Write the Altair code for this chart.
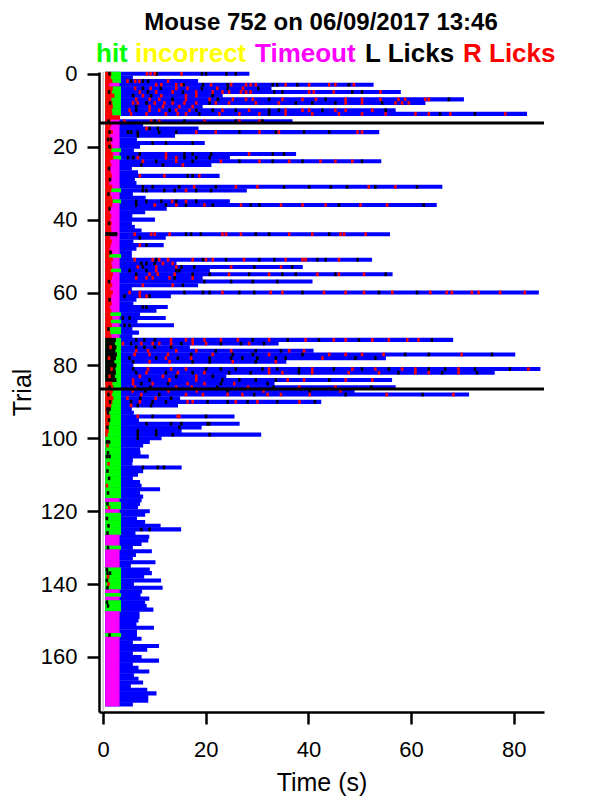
import altair as alt
import pandas as pd

# trial end times (s), one per trial
TRIAL_END = [
    28.5, 5.8, 18.5, 52.7, 32.8, 58.0, 23.3, 70.3, 62.8, 19.4,
    57.0, 82.6, 3.3, 36.9, 7.8, 18.6, 53.8, 14.0, 6.6, 19.8,
    7.2, 6.0, 37.6, 24.7, 54.2, 21.1, 5.6, 6.8, 22.7, 6.2,
    6.5, 66.1, 28.0, 5.8, 8.3, 24.7, 65.0, 12.4, 8.2, 5.7,
    10.1, 5.6, 6.2, 7.5, 55.9, 12.2, 5.9, 11.8, 6.5, 5.6,
    5.6, 52.4, 14.3, 38.9, 20.8, 56.4, 19.4, 40.8, 18.5, 5.6,
    84.9, 13.2, 6.5, 5.9, 12.6, 10.4, 7.2, 12.2, 6.7, 13.8,
    5.7, 7.0, 5.7, 68.2, 34.2, 16.9, 41.0, 80.3, 55.1, 35.7,
    5.9, 85.2, 76.3, 24.0, 56.3, 33.4, 57.0, 49.0, 71.3, 15.0,
    42.5, 14.6, 5.6, 6.0, 25.6, 7.0, 26.6, 19.2, 15.3, 30.8,
    11.4, 9.1, 7.8, 7.2, 7.3, 8.9, 5.8, 5.7, 15.3, 7.8,
    6.8, 5.8, 7.2, 7.5, 11.1, 7.2, 7.8, 7.5, 7.2, 6.8,
    9.1, 8.2, 6.6, 8.2, 11.2, 15.2, 6.3, 9.0, 8.8, 7.5,
    5.8, 9.5, 6.4, 5.8, 10.2, 5.4, 9.1, 9.5, 8.0, 11.3,
    6.0, 11.6, 7.6, 7.3, 9.0, 8.2, 8.5, 9.8, 7.1, 7.1,
    6.9, 6.5, 9.9, 6.6, 6.6, 7.5, 5.8, 10.9, 8.6, 5.8,
    7.5, 10.9, 5.8, 6.9, 9.0, 6.0, 6.9, 7.8, 5.4, 8.6,
    10.4, 8.8, 8.8, 5.8,
]

# H = hit, I = incorrect, T = timeout
OUTCOME = list(
    "HHHTHHHHHH" "HHTTTTTTTT" "THTHTTTTTT" "TTHTTHTTTT" "TTTTTTTTTT"
    "HTTTHTTTTT" "TTTTTTHTHT" "HHTHHHHHHH" "HHHHHHHHHH" "HHHHHHHHHH"
    "HHHHHHHHHH" "HHHHHHHTHH" "THHHHHHTTT" "HTTTTTHHHH" "HHTHTHHHTT"
    "TTTTHTTTTT" "TTTTTTTTTT" "TTTT"
)
OUTCOME_ON = 0.4
OUTCOME_OFF = {"H": 3.5, "I": 3.5, "T": 3.2}

# dense licking right after the cue (trials 0-99): end time and side
EARLY_END = [
    1.6, 1.5, 1.8, 1.2, 1.9, 1.7, 2.2, 1.6, 1.8, 1.9, 1.7, 1.8, 3.3, 1.5,
    1.6, 1.4, 1.9, 1.3, 1.7, 1.5, 1.8, 1.6, 1.9, 2.0, 1.4, 1.6, 1.3, 1.5,
    1.7, 1.5, 1.2, 1.8, 1.6, 1.4, 1.7, 1.9, 1.8, 1.5, 1.3, 1.6, 1.4, 1.7,
    1.5, 1.6, 2.8, 1.4, 1.7, 1.5, 1.3, 1.8, 1.2, 1.9, 1.6, 1.8, 1.5, 1.9,
    1.7, 1.5, 1.8, 1.4, 1.9, 1.6, 1.5, 1.7, 1.3, 1.6, 1.4, 1.8, 1.5, 1.7,
    1.2, 1.4, 1.6, 2.5, 2.3, 2.6, 2.4, 2.7, 2.5, 2.2, 2.6, 2.4, 2.5, 2.3, 2.6,
    1.8, 2.0, 1.9, 1.7, 2.0, 1.8, 1.6, 1.2, 1.0, 1.4, 0.9, 1.2, 0.8, 1.1, 0.9,
]
EARLY_SIDE = list(
    "RRRRRRRRRR" "RRRRRRRRRR" "RRRRRRRRRR" "RRRRRRRRRR" "RRRRLRRRRR"
    "RRRRRRRRRR" "RRRRRRRRRR" "RRRLLLLLLL" "LLLLLRRRRR" "RRRRRRRRRR"
)

L_LICKS = {
    0: [1.0, 10.2, 19.0, 19.8, 23.8, 25.6],
    2: [5.2, 7.5, 8.5],
    3: [15.4, 19.2, 24.0, 32.8, 33.7, 37.6, 47.6],
    4: [7.5, 11.0, 19.0, 24.0, 30.0],
    5: [0.9, 8.5, 15.3, 33.1, 34.7, 48.3, 50.2],
    6: [5.6, 9.1, 21.1],
    7: [13.3, 22.1, 32.1, 43.1, 67.1],
    8: [1.1, 8.2, 20.5, 37.3, 40.5, 45.0, 54.1],
    9: [6.2],
    10: [6.2, 12.7, 17.9, 21.1, 25.6, 32.1, 34.0, 42.5, 54.8],
    11: [18.5, 32.1, 65.4, 72.2],
    13: [0.8, 9.8, 15.6, 25.6, 30.8],
    15: [8.8, 10.4],
    16: [1.0, 4.6, 5.2, 6.5, 10.7, 14.0, 26.3, 33.4, 38.9, 43.8],
    17: [6.5],
    18: [0.7, 1.3],
    19: [9.4, 12.0, 17.2],
    20: [1.0],
    22: [6.9, 15.6, 17.2, 20.8, 32.8, 35.0],
    23: [4.6, 5.6, 15.6, 17.9, 20.5],
    24: [10.1, 17.2, 26.3, 32.8, 38.6, 50.2],
    25: [7.2, 11.4],
    26: [0.9],
    28: [16.2, 17.2],
    29: [1.1],
    31: [7.5, 9.4, 14.6, 21.7, 35.0, 39.9, 44.1, 47.3, 52.8, 60.9],
    32: [7.5, 8.2, 11.7, 13.7, 17.9, 20.8],
    33: [0.8],
    35: [6.2, 8.2, 11.1, 14.0, 17.9],
    36: [6.2, 12.0, 15.9, 21.1, 28.5, 30.2, 45.7, 62.2],
    37: [1.0],
    41: [0.9],
    44: [15.9, 16.9, 18.8, 29.5, 32.1, 43.8],
    45: [6.9],
    47: [8.2],
    49: [1.2],
    51: [10.1, 19.2, 23.7, 30.2, 33.1, 41.5, 43.1, 49.3],
    52: [7.2, 8.2, 9.8],
    53: [7.5, 15.0, 17.5, 29.2, 36.6],
    54: [4.9, 8.2, 14.0, 14.6],
    55: [6.2, 17.2, 20.5, 28.2, 34.7, 37.3, 45.0, 54.8],
    56: [13.7],
    57: [0.9, 19.5, 24.7, 28.9, 33.7],
    58: [15.3],
    60: [15.6, 19.2, 20.5, 26.3, 29.2, 38.6, 53.5, 60.9],
    61: [3.9, 8.8],
    62: [1.0],
    64: [7.5, 8.2],
    67: [3.6, 4.9],
    69: [3.9, 4.9],
    70: [0.8],
    73: [6.2, 7.8, 9.8, 28.9, 35.7, 41.8, 49.6, 63.8],
    74: [5.2, 15.0, 22.7, 26.6, 31.1],
    75: [6.2, 7.8, 9.8, 13.0],
    76: [21.7, 29.5, 34.4],
    77: [16.9, 25.0, 28.9, 38.6, 58.6, 63.2, 75.5],
    78: [4.9, 10.1, 14.3, 20.5, 24.7, 26.9, 29.8, 33.4, 35.3, 48.9, 52.8],
    79: [5.6, 17.2, 20.5, 29.5],
    81: [5.6, 19.8, 22.7, 25.6, 30.8, 33.7, 37.9, 44.7, 50.2, 55.4, 63.2,
         66.4, 72.2, 79.0],
    82: [6.2, 12.0, 17.2, 24.3, 28.5, 37.9, 57.3, 65.8, 72.6],
    83: [14.0, 21.1],
    84: [8.8, 23.0, 26.3, 29.5, 33.4, 43.8],
    85: [7.2, 12.4, 22.7, 31.8],
    86: [1.0, 9.0, 22.0, 33.0, 52.0],
    87: [8.0, 24.0, 40.0],
    88: [0.8, 10.7, 29.2, 47.0, 62.0],
    89: [7.0, 13.0],
    90: [1.1, 5.2, 9.4, 12.0, 20.1, 24.0, 27.9, 33.7, 41.0],
    91: [6.5, 9.1],
    92: [0.6, 1.0],
    93: [0.7],
    94: [9.4, 19.8],
    95: [0.9],
    96: [8.2, 13.0, 15.0, 20.1, 20.4],
    97: [0.6, 14.6],
    98: [6.5, 10.1],
    99: [6.5, 10.1, 13.3, 20.5],
    100: [6.5],
    101: [0.5, 0.9],
    104: [0.7],
    105: [0.5, 1.0],
    108: [7.5, 10.4, 11.6],
    109: [0.6],
    111: [0.9],
    115: [0.7],
    118: [0.6],
    122: [0.5],
    124: [0.8],
    125: [7.2, 8.8],
    126: [0.6],
    130: [0.7],
    136: [0.5],
    137: [0.6, 1.1],
    139: [0.5],
    141: [0.6],
    145: [0.5],
    146: [0.7],
    154: [1.0],
}

R_LICKS = {
    0: [8.3, 9.0, 9.8, 15.0],
    2: [4.5, 6.0, 6.8, 12.4],
    3: [10.1, 11.1, 14.0, 15.0, 20.8, 24.7, 27.6, 28.5, 29.5, 35.3, 39.9,
        43.8, 45.0, 48.6],
    4: [6.0, 9.0, 14.0, 16.2, 22.0, 27.0],
    5: [6.9, 10.1, 13.3, 17.9, 21.1, 23.0, 24.3, 26.6, 27.6, 28.5, 39.9,
        40.8, 44.7, 53.8],
    6: [7.5, 11.1, 15.9, 17.9],
    7: [6.2, 8.8, 10.7, 15.9, 20.5, 25.0, 27.6, 28.9, 34.7, 38.6, 41.2,
        47.0, 50.2, 53.8, 57.3, 58.6, 62.5, 63.2],
    8: [5.6, 6.5, 9.8, 11.7, 13.3, 15.6, 17.9, 21.7, 24.3, 29.5, 34.0,
        47.0, 50.2, 56.7, 58.0, 59.3],
    9: [8.8, 11.4, 14.6, 17.2],
    10: [4.9, 8.8, 10.7, 14.0, 16.6, 23.0, 28.2, 35.3, 38.6, 39.9, 45.0,
         47.0, 52.2],
    11: [5.2, 8.2, 12.0, 14.3, 15.9, 22.4, 26.3, 30.2, 35.3, 40.5, 45.7,
         50.2, 54.8, 60.6, 63.2, 67.4, 78.1],
    13: [3.9, 9.1, 10.7, 19.5, 26.3, 30.2],
    15: [8.2],
    16: [17.9, 21.7, 30.2, 34.0, 49.3, 50.2],
    22: [12.0, 28.2],
    23: [6.5, 12.0, 14.0],
    24: [7.5, 14.0, 22.7, 30.2, 36.0, 42.1, 45.0, 48.3],
    25: [15.3],
    28: [6.9, 11.7, 18.5],
    31: [17.5, 25.6, 29.8, 51.5, 56.7],
    32: [15.9],
    35: [13.2, 15.9],
    36: [9.8, 14.0, 19.5, 26.6, 34.4, 38.6, 43.1, 49.9, 55.1],
    44: [5.9, 9.1, 9.8, 12.7, 23.0, 23.7, 26.6, 36.0, 40.5, 46.0, 46.7, 50.9],
    47: [6.9],
    51: [5.9, 9.4, 10.7, 12.4, 17.2, 19.8, 21.1, 27.2, 35.3, 38.6, 39.2, 45.7],
    52: [11.4, 13.3],
    53: [6.5, 10.1, 14.0, 24.7, 34.4],
    54: [10.1],
    55: [8.8, 10.4, 13.7, 24.3, 32.1, 41.5, 45.7, 50.6],
    56: [6.2, 8.2, 9.4, 12.7, 17.2],
    58: [7.5, 13.3],
    60: [4.9, 6.9, 23.0, 32.4, 34.7, 42.8, 47.0, 50.6, 56.1, 63.5, 66.7,
         67.7, 71.6, 72.9, 77.1, 81.9],
    61: [6.9, 8.2],
    73: [13.0, 15.9, 17.2, 19.5, 22.7, 26.0, 32.1, 39.2, 44.7, 47.0, 52.2,
         55.4, 59.0, 61.2],
    74: [3.6, 7.2, 9.4, 10.7, 13.0, 17.2, 19.8, 28.2],
    75: [1.2],
    76: [6.2, 8.5, 14.0, 17.9, 24.7, 36.0, 38.9],
    77: [5.9, 8.8, 12.4, 21.1, 32.1, 43.8, 47.0, 50.2, 54.4, 69.6],
    78: [0.9, 12.0, 16.9, 42.5],
    79: [8.8, 12.7, 25.0, 33.4],
    81: [1.4, 8.5, 13.0, 15.9, 32.1, 40.5, 48.3, 52.8, 58.0, 60.6, 69.0, 82.6],
    82: [8.2, 14.3, 19.5, 32.1, 34.7, 40.5, 47.6, 53.5, 60.6, 63.2, 69.0],
    83: [1.0, 6.9, 11.4, 17.9],
    84: [5.6, 12.7, 17.9, 35.7, 38.9, 47.0, 52.2],
    85: [5.6, 9.4, 16.2, 19.5, 25.3],
    86: [6.0, 14.0, 17.0, 28.0, 38.0, 45.0],
    87: [5.5, 12.5, 18.0, 31.0, 46.0],
    88: [7.2, 15.9, 19.2, 24.0, 26.9, 31.8, 34.4, 40.0, 55.0, 68.0],
    89: [4.5, 10.0],
    90: [6.9, 16.2, 17.2, 25.6, 29.8, 38.0],
    91: [5.2],
    94: [6.5, 14.3, 14.6],
    102: [0.6],
    107: [0.8],
    113: [0.5],
    119: [0.9],
    138: [0.7],
    140: [0.8],
}

BLOCK_BREAKS = [13.5, 86.5]

TITLE = "Mouse 752 on 06/09/2017 13:46"
LEGEND_LABELS = ["hit", "incorrect", "Timeout", "L Licks", "R Licks"]
LEGEND_CODES = ["H", "I", "T", "L", "R"]

COLORS = {"trial": "#0000ff", "H": "#00ff00", "I": "#ffff00", "T": "#ff00ff",
          "L": "#000000", "R": "#ff0000"}
LEGEND_X = [-3, 36, 156, 266, 364]
LICK_WIDTH = 0.5
ROW_HALF = 0.56   # slight overlap so neighbouring rows join without seams
FONT = "Liberation Sans"

# ---- tables ----
trials = pd.DataFrame({"trial": range(len(TRIAL_END)), "end": TRIAL_END,
                       "outcome": OUTCOME})
trials["top"] = trials["trial"] - ROW_HALF
trials["bottom"] = trials["trial"] + ROW_HALF
trials["start"] = OUTCOME_ON
trials["cue_end"] = trials["outcome"].map(OUTCOME_OFF)
trials["blue"] = COLORS["trial"]
trials["cue_color"] = trials["outcome"].map(COLORS)

early = pd.DataFrame({"trial": range(len(EARLY_END)), "end": EARLY_END,
                      "side": EARLY_SIDE})
early["top"] = early["trial"] - ROW_HALF
early["bottom"] = early["trial"] + ROW_HALF
early["start"] = OUTCOME_ON
early["color"] = early["side"].map(COLORS)

rows = []
for side, table in (("L", L_LICKS), ("R", R_LICKS)):
    for trial, times in table.items():
        for t in times:
            rows.append({"trial": trial, "t": t, "side": side})
licks = pd.DataFrame(rows)
licks["t2"] = licks["t"] + LICK_WIDTH
licks["top"] = licks["trial"] - 0.5
licks["bottom"] = licks["trial"] + 0.5
licks["color"] = licks["side"].map(COLORS)

breaks = pd.DataFrame({"y": BLOCK_BREAKS})

# ---- scales / axes ----
x_scale = alt.Scale(domain=[-0.8, 85.9], nice=False, zero=False)
y_scale = alt.Scale(domain=[-0.5, 175.1], reverse=True, nice=False, zero=False)
x_axis = alt.Axis(values=[0, 20, 40, 60, 80], title="Time (s)", labelPadding=15,
                  titlePadding=10, labelFlush=False)
y_axis = alt.Axis(values=list(range(0, 161, 20)), title="Trial", labelPadding=10,
                  titlePadding=5, labelFlush=False)


def xenc(field):
    return alt.X(field, type="quantitative", scale=x_scale, axis=x_axis)


def yenc(field):
    return alt.Y(field, type="quantitative", scale=y_scale, axis=y_axis)


zero_line = alt.Chart(pd.DataFrame({"t": [0.0]})).mark_rule(
    color="#aaaaaa", strokeWidth=1
).encode(x=xenc("t"))

bars = alt.Chart(trials).mark_rect().encode(
    x=xenc("start"), x2="end", y=yenc("top"), y2="bottom",
    color=alt.Color("blue:N", scale=None),
)

cue = alt.Chart(trials).mark_rect().encode(
    x=xenc("start"), x2="cue_end", y=yenc("top"), y2="bottom",
    color=alt.Color("cue_color:N", scale=None),
)

burst = alt.Chart(early).mark_rect().encode(
    x=xenc("start"), x2="end", y=yenc("top"), y2="bottom",
    color=alt.Color("color:N", scale=None),
)

lick_marks = alt.Chart(licks).mark_rect().encode(
    x=xenc("t"), x2="t2", y=yenc("top"), y2="bottom",
    color=alt.Color("color:N", scale=None),
)

block_lines = alt.Chart(breaks).mark_rule(color="black", strokeWidth=3).encode(
    y=yenc("y")
)

title_text = alt.Chart(pd.DataFrame({"label": [TITLE]})).mark_text(
    font=FONT, fontSize=24, fontWeight="bold", align="center",
    baseline="alphabetic", color="black",
).encode(x=alt.value(222), y=alt.value(-42), text="label:N")

legend_layers = []
for label, code, px in zip(LEGEND_LABELS, LEGEND_CODES, LEGEND_X):
    legend_layers.append(
        alt.Chart(pd.DataFrame({"label": [label]})).mark_text(
            font=FONT, fontSize=26, fontWeight="bold", align="left",
            baseline="alphabetic", color=COLORS[code],
        ).encode(x=alt.value(px), y=alt.value(-10), text="label:N")
    )

chart = alt.layer(
    zero_line, bars, cue, burst, lick_marks, block_lines, title_text,
    *legend_layers,
).properties(
    width=445, height=640,
    autosize=alt.AutoSizeParams(type="none"),
    padding={"left": 91, "top": 64, "right": 48, "bottom": 88},
).configure_view(
    stroke="transparent"
).configure_axis(
    domainColor="black", domainWidth=2.5, tickColor="black", tickWidth=2.5,
    tickSize=12, labelFont=FONT, labelFontSize=22, labelColor="black",
    titleFont=FONT, titleFontSize=25, titleFontWeight="normal",
    titleColor="black", grid=False,
)

chart.save("out.html", embed_options={"renderer": "svg", "actions": False})
